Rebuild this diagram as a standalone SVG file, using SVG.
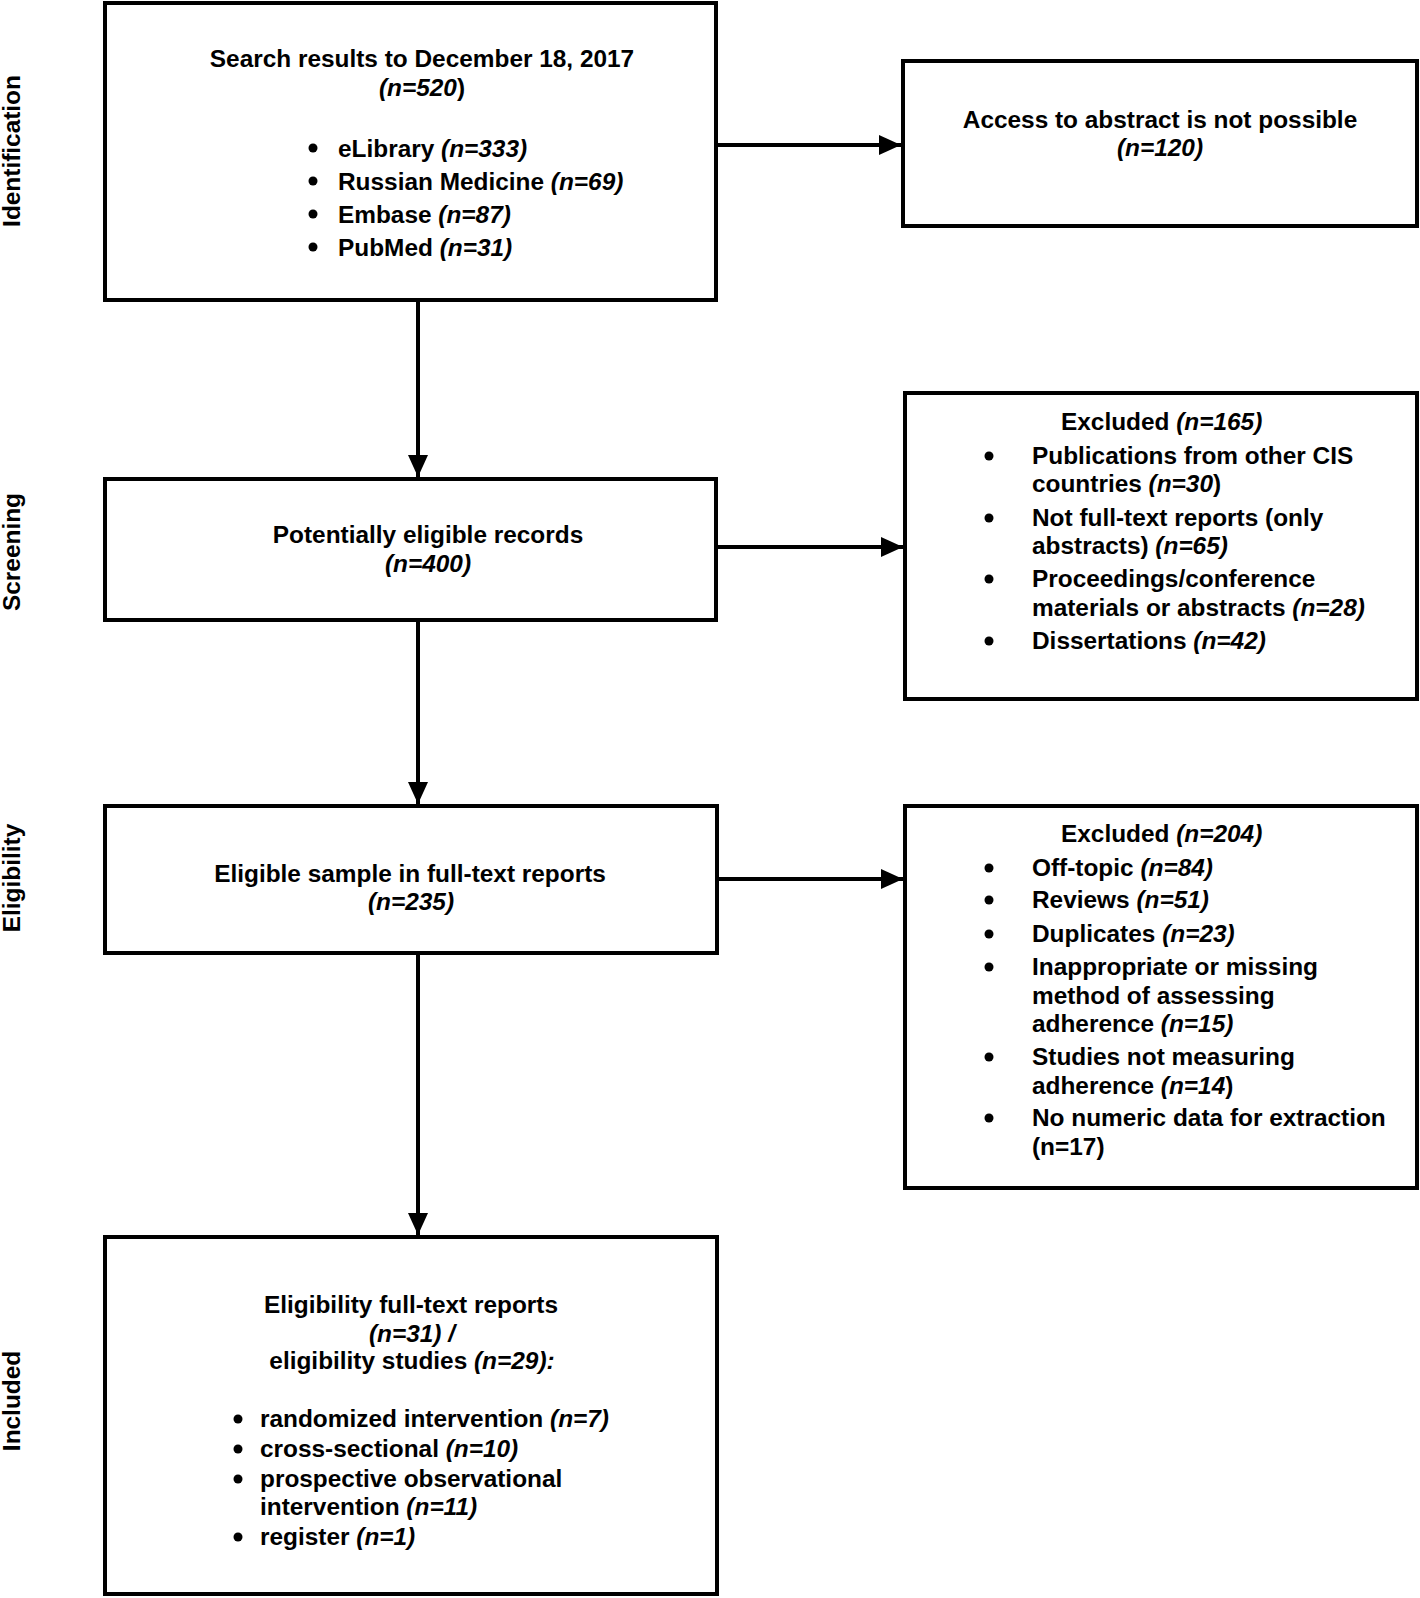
<svg xmlns="http://www.w3.org/2000/svg" width="1420" height="1598" viewBox="0 0 1420 1598">
<style>
text{font-family:"Liberation Sans",Arial,sans-serif;font-weight:bold;font-size:24.4px;fill:#000}
.c{text-anchor:middle}
.i{font-style:italic}
.box{fill:#fff;stroke:#000;stroke-width:4}
.conn{stroke:#000;stroke-width:4;fill:none}
.dot{fill:#000}
</style>
<defs>
<marker id="ah" markerUnits="userSpaceOnUse" markerWidth="22" markerHeight="20" refX="22" refY="10" orient="auto">
<path d="M0,0 L22,10 L0,20 z" fill="#000"/>
</marker>
</defs>
<rect width="1420" height="1598" fill="#fff"/>
<g id="stage-labels">
<text class="c" transform="translate(20,151) rotate(-90)">Identification</text>
<text class="c" transform="translate(20,552) rotate(-90)">Screening</text>
<text class="c" transform="translate(20,878) rotate(-90)">Eligibility</text>
<text class="c" transform="translate(20,1401) rotate(-90)">Included</text>
</g>
<g id="connectors">
<line class="conn" x1="418" y1="301" x2="418" y2="477" marker-end="url(#ah)"/>
<line class="conn" x1="418" y1="621" x2="418" y2="804" marker-end="url(#ah)"/>
<line class="conn" x1="418" y1="955" x2="418" y2="1235" marker-end="url(#ah)"/>
<line class="conn" x1="716" y1="145" x2="901" y2="145" marker-end="url(#ah)"/>
<line class="conn" x1="716" y1="547" x2="903" y2="547" marker-end="url(#ah)"/>
<line class="conn" x1="717" y1="879" x2="903" y2="879" marker-end="url(#ah)"/>
</g>
<g id="search">
<rect class="box" x="105" y="3" width="611" height="297"/>
<text class="c" x="422" y="67">Search results to December 18, 2017</text>
<text class="c" x="422" y="96"><tspan class="i">(n=520</tspan>)</text>
<circle class="dot" cx="313" cy="148" r="4.5"/><text x="338" y="157">eLibrary <tspan class="i">(n=333)</tspan></text>
<circle class="dot" cx="313" cy="181" r="4.5"/><text x="338" y="190">Russian Medicine <tspan class="i">(n=69)</tspan></text>
<circle class="dot" cx="313" cy="214" r="4.5"/><text x="338" y="223">Embase <tspan class="i">(n=87)</tspan></text>
<circle class="dot" cx="313" cy="247" r="4.5"/><text x="338" y="256">PubMed <tspan class="i">(n=31)</tspan></text>
</g>
<g id="no-access">
<rect class="box" x="903" y="61" width="514" height="165"/>
<text class="c" x="1160" y="128">Access to abstract is not possible</text>
<text class="c i" x="1160" y="156">(n=120)</text>
</g>
<g id="potentially">
<rect class="box" x="105" y="479" width="611" height="141"/>
<text class="c" x="428" y="543">Potentially eligible records</text>
<text class="c i" x="428" y="572">(n=400)</text>
</g>
<g id="excluded-165">
<rect class="box" x="905" y="393" width="512" height="306"/>
<text x="1061" y="430">Excluded <tspan class="i">(n=165)</tspan></text>
<circle class="dot" cx="989" cy="456" r="4.5"/><text x="1032" y="464">Publications from other CIS</text>
<text x="1032" y="492">countries <tspan class="i">(n=30</tspan>)</text>
<circle class="dot" cx="989" cy="518" r="4.5"/><text x="1032" y="526">Not full-text reports (only</text>
<text x="1032" y="554">abstracts) <tspan class="i">(n=65)</tspan></text>
<circle class="dot" cx="989" cy="579" r="4.5"/><text x="1032" y="587">Proceedings/conference</text>
<text x="1032" y="616">materials or abstracts <tspan class="i">(n=28)</tspan></text>
<circle class="dot" cx="989" cy="641" r="4.5"/><text x="1032" y="649">Dissertations <tspan class="i">(n=42)</tspan></text>
</g>
<g id="eligible">
<rect class="box" x="105" y="806" width="612" height="147"/>
<text class="c" x="410" y="882">Eligible sample in full-text reports</text>
<text class="c i" x="411" y="910">(n=235)</text>
</g>
<g id="excluded-204">
<rect class="box" x="905" y="806" width="512" height="382"/>
<text x="1061" y="842">Excluded <tspan class="i">(n=204)</tspan></text>
<circle class="dot" cx="989" cy="868" r="4.5"/><text x="1032" y="876">Off-topic <tspan class="i">(n=84)</tspan></text>
<circle class="dot" cx="989" cy="900" r="4.5"/><text x="1032" y="908">Reviews <tspan class="i">(n=51)</tspan></text>
<circle class="dot" cx="989" cy="934" r="4.5"/><text x="1032" y="942">Duplicates <tspan class="i">(n=23)</tspan></text>
<circle class="dot" cx="989" cy="967" r="4.5"/><text x="1032" y="975">Inappropriate or missing</text>
<text x="1032" y="1004">method of assessing</text>
<text x="1032" y="1032">adherence <tspan class="i">(n=15)</tspan></text>
<circle class="dot" cx="989" cy="1057" r="4.5"/><text x="1032" y="1065">Studies not measuring</text>
<text x="1032" y="1094">adherence <tspan class="i">(n=14</tspan>)</text>
<circle class="dot" cx="989" cy="1118" r="4.5"/><text x="1032" y="1126">No numeric data for extraction</text>
<text x="1032" y="1155">(n=17)</text>
</g>
<g id="included">
<rect class="box" x="105" y="1237" width="612" height="357"/>
<text class="c" x="411" y="1313">Eligibility full-text reports</text>
<text class="c" x="412" y="1342"><tspan class="i">(n=31) /</tspan></text>
<text class="c" x="412" y="1369">eligibility studies <tspan class="i">(n=29):</tspan></text>
<circle class="dot" cx="238" cy="1419" r="4.5"/><text x="260" y="1427">randomized intervention <tspan class="i">(n=7)</tspan></text>
<circle class="dot" cx="238" cy="1449" r="4.5"/><text x="260" y="1457">cross-sectional <tspan class="i">(n=10)</tspan></text>
<circle class="dot" cx="238" cy="1479" r="4.5"/><text x="260" y="1487">prospective observational</text>
<text x="260" y="1515">intervention <tspan class="i">(n=11)</tspan></text>
<circle class="dot" cx="238" cy="1537" r="4.5"/><text x="260" y="1545">register <tspan class="i">(n=1)</tspan></text>
</g>
</svg>
